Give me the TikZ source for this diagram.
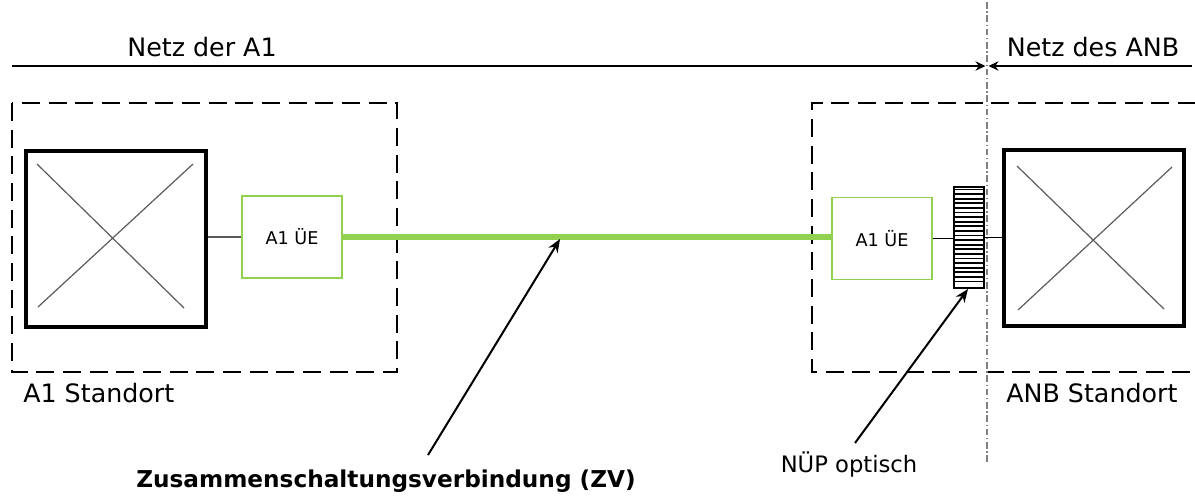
\documentclass[tikz,border=0pt]{standalone}
\usepackage{fontspec}
\setmainfont{DejaVu Sans}
\usetikzlibrary{arrows.meta}
\definecolor{ovgreen}{RGB}{146,208,80}
\definecolor{crossgray}{RGB}{90,90,90}
\tikzset{
  server/.style={draw=black, line width=3pt, minimum width=135pt, minimum height=132pt, inner sep=0pt},
  uebox/.style={draw=ovgreen, line width=0.9pt, fill=white, minimum width=75pt, minimum height=61.5pt, inner sep=0pt, font=\fontsize{13.2}{15}\selectfont},
  sitebox/.style={draw=black, line width=1.5pt, dash pattern=on 13.5pt off 6.5pt},
  biglabel/.style={font=\fontsize{19}{22}\selectfont, inner sep=0pt},
  thinlink/.style={draw=crossgray, line width=0.8pt},
  pointer/.style={draw=black, line width=1.5pt, -{Stealth[length=10pt,width=8pt]}},
  netarrow/.style={draw=black, line width=1.4pt, -{Stealth[length=7.5pt,width=7pt]}},
  boundary/.style={draw=gray, line width=0.8pt, dash pattern=on 5pt off 2pt on 1pt off 2pt},
}
\begin{document}
\begin{tikzpicture}[x=0.75pt,y=-0.75pt]
\useasboundingbox (0,0) rectangle (1195,500);
% site boxes
\draw[sitebox] (12,103) rectangle (397,372);
\draw[sitebox] (1196,103) -- (812,103) -- (812,372) -- (1196,372);
% boundary
\coordinate (btop) at (987,2);
\coordinate (bbot) at (987,462);
\draw[boundary] (btop) -- (bbot);
% net arrows
\coordinate (lstart) at (12,66);
\coordinate (ltip) at (985.5,66);
\coordinate (rstart) at (1192,66);
\coordinate (rtip) at (988.5,66);
\draw[netarrow] (lstart) -- (ltip);
\draw[netarrow] (rstart) -- (rtip);
\node[biglabel] (netza1) at (202,47) {Netz der A1};
\node[biglabel] (netzanb) at (1093,47) {Netz des ANB};
% servers
\node[server] (srvl) at (115.5,238.5) {};
\draw[crossgray, line width=0.9pt] (37,164) -- (184,308) (38,307) -- (193,164);
\node[server] (srvr) at (1094,237.5) {};
\draw[crossgray, line width=0.9pt] (1017,166) -- (1164,309) (1018,310) -- (1172,167);
% A1 UE boxes
\node[uebox] (uel) at (292,237) {A1 ÜE};
\node[uebox] (uer) at (882,238.5) {A1 ÜE};
% links
\draw[thinlink] (srvl.east |- uel.west) -- (uel.west);
\draw[ovgreen, line width=4.5pt] (uel.east) -- (uel.east -| uer.west);
% NUEP hatched
\node[draw=black, line width=1pt, minimum width=22.5pt, minimum height=75.75pt, inner sep=0pt] (nuep) at (969,237.5) {};
\foreach \yy in {189.5,194.1,...,286} {\draw[black, line width=1.4pt] (954,\yy) -- (984,\yy);}
\draw[thinlink, draw=black] (uer.east) -- (nuep.west |- uer.east);
\draw[thinlink, draw=black] (nuep.east) -- (srvr.west |- nuep.east);
% site labels
\node[biglabel, anchor=west] (sitel) at (23,393) {A1 Standort};
\node[biglabel, anchor=west] (siter) at (1006,393) {ANB Standort};
% pointer labels
\node[font=\bfseries\fontsize{17.4}{20}\selectfont, inner sep=0pt] (zv) at (386,481) {Zusammenschaltungsverbindung (ZV)};
\node[font=\fontsize{17}{20}\selectfont, inner sep=0pt] (nuepl) at (849,465) {NÜP optisch};
\coordinate (zvs) at (428,455);
\coordinate (zvt) at (560,239);
\draw[pointer] (zvs) -- (zvt);
\coordinate (nus) at (855,443);
\coordinate (nut) at (968,289);
\draw[pointer] (nus) -- (nut);
\end{tikzpicture}
\end{document}
